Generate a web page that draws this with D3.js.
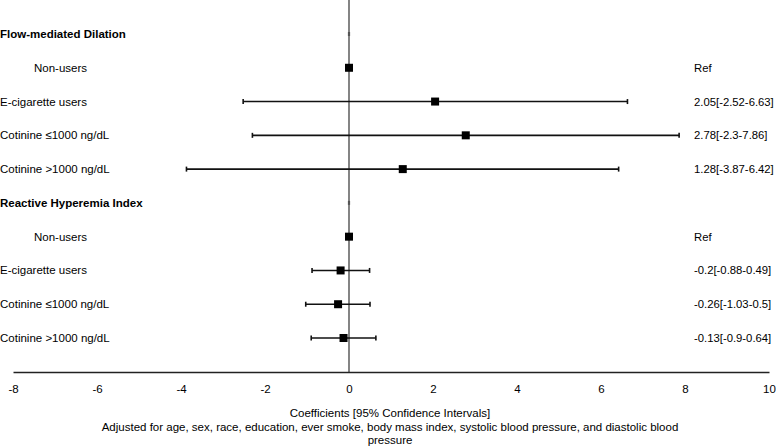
<!DOCTYPE html>
<html>
<head>
<meta charset="utf-8">
<script src="https://cdn.jsdelivr.net/npm/d3@7"></script>
<style>
  body { margin: 0; background: #fff; }
  text { font-family: "Liberation Sans", Arial, sans-serif; fill: #000; }
</style>
</head>
<body>
<div id="chart"></div>
<script>
'use strict';

// forest plot, two outcome blocks
var rowLabels = ['Flow-mediated Dilation', 'Non-users', 'E-cigarette users', 'Cotinine \u22641000 ng/dL', 'Cotinine >1000 ng/dL',
                 'Reactive Hyperemia Index', 'Non-users', 'E-cigarette users', 'Cotinine \u22641000 ng/dL', 'Cotinine >1000 ng/dL'];
var rowKind = ['header', 'ref', 'est', 'est', 'est', 'header', 'ref', 'est', 'est', 'est'];
var estimates = [null, 0, 2.05, 2.78, 1.28, null, 0, -0.2, -0.26, -0.13];
var lower = [null, null, -2.52, -2.3, -3.87, null, null, -0.88, -1.03, -0.9];
var upper = [null, null, 6.63, 7.86, 6.42, null, null, 0.49, 0.5, 0.64];
var rightLabels = ['', 'Ref', '2.05[-2.52-6.63]', '2.78[-2.3-7.86]', '1.28[-3.87-6.42]',
                   '', 'Ref', '-0.2[-0.88-0.49]', '-0.26[-1.03-0.5]', '-0.13[-0.9-0.64]'];
var xTicks = [-8, -6, -4, -2, 0, 2, 4, 6, 8, 10];
var titleLines = ['Coefficients [95% Confidence Intervals]',
                  'Adjusted for age, sex, race, education, ever smoke, body mass index, systolic blood pressure, and diastolic blood',
                  'pressure'];

var width = 776;
var height = 447;
var axisY = 372;

var rows = rowLabels.map(function(d, i) {
  return { id: i, label: d, kind: rowKind[i], est: estimates[i], lo: lower[i], hi: upper[i], right: rightLabels[i] };
});

var x = d3.scaleLinear().domain([-8, 10]).range([13, 769]);
var y = d3.scalePoint().domain(rows.map(function(d) { return d.id; })).range([34, 338]);

var svg = d3.select('#chart')
  .append('svg')
  .attr('width', width)
  .attr('height', height);

// zero reference line
svg.append('line')
  .attr('x1', x(0)).attr('x2', x(0))
  .attr('y1', 0).attr('y2', axisY)
  .attr('stroke', '#333')
  .attr('stroke-width', 1.2);

// x axis
var axis = svg.append('g')
  .attr('transform', 'translate(0,' + axisY + ')')
  .call(d3.axisBottom(x).tickValues(xTicks).tickSize(0).tickPadding(13)
    .tickFormat(function(d) { return String(d); }));
axis.select('.domain').attr('stroke', '#222').attr('stroke-width', 1.6);
axis.selectAll('.tick text')
  .attr('font-size', '11.5px')
  .style('font-family', '"Liberation Sans", Arial, sans-serif')
  .attr('fill', '#000');
axis.selectAll('.tick line').remove();

// axis title
svg.append('g').selectAll('text')
  .data(titleLines)
  .enter()
  .append('text')
  .attr('x', 390)
  .attr('y', function(d, i) { return 417 + i * 13.5; })
  .attr('text-anchor', 'middle')
  .attr('font-size', '11.5px')
  .text(function(d) { return d; });

// left labels
svg.append('g').selectAll('text')
  .data(rows)
  .enter()
  .append('text')
  .attr('x', function(d) { return d.kind === 'ref' ? 34 : 0; })
  .attr('y', function(d) { return y(d.id) + 4; })
  .attr('font-size', '11.5px')
  .attr('font-weight', function(d) { return d.kind === 'header' ? 'bold' : 'normal'; })
  .text(function(d) { return d.label; });

// right labels
svg.append('g').selectAll('text')
  .data(rows.filter(function(d) { return d.right !== ''; }))
  .enter()
  .append('text')
  .attr('x', 694)
  .attr('y', function(d) { return y(d.id) + 4; })
  .attr('font-size', '11.3px')
  .text(function(d) { return d.right; });

// header markers on zero line
svg.append('g').selectAll('line')
  .data(rows.filter(function(d) { return d.kind === 'header'; }))
  .enter()
  .append('line')
  .attr('x1', x(0)).attr('x2', x(0))
  .attr('y1', function(d) { return y(d.id) - 2; })
  .attr('y2', function(d) { return y(d.id) + 2; })
  .attr('stroke', '#555')
  .attr('stroke-width', 2.2);

var est = rows.filter(function(d) { return d.kind === 'est'; });

// whiskers
var ci = svg.append('g').attr('stroke', '#111').attr('stroke-width', 1.6);
ci.selectAll('.ci')
  .data(est)
  .enter()
  .append('line')
  .attr('x1', function(d) { return x(d.lo); })
  .attr('x2', function(d) { return x(d.hi); })
  .attr('y1', function(d) { return y(d.id); })
  .attr('y2', function(d) { return y(d.id); });
['lo', 'hi'].forEach(function(k) {
  ci.selectAll('.cap-' + k)
    .data(est)
    .enter()
    .append('line')
    .attr('x1', function(d) { return x(d[k]); })
    .attr('x2', function(d) { return x(d[k]); })
    .attr('y1', function(d) { return y(d.id) - 2.5; })
    .attr('y2', function(d) { return y(d.id) + 2.5; });
});

// point estimates
svg.append('g').selectAll('rect')
  .data(rows.filter(function(d) { return d.est !== null; }))
  .enter()
  .append('rect')
  .attr('x', function(d) { return x(d.est) - 4; })
  .attr('y', function(d) { return y(d.id) - 4; })
  .attr('width', 8)
  .attr('height', 8)
  .attr('fill', '#000');
</script>
</body>
</html>
